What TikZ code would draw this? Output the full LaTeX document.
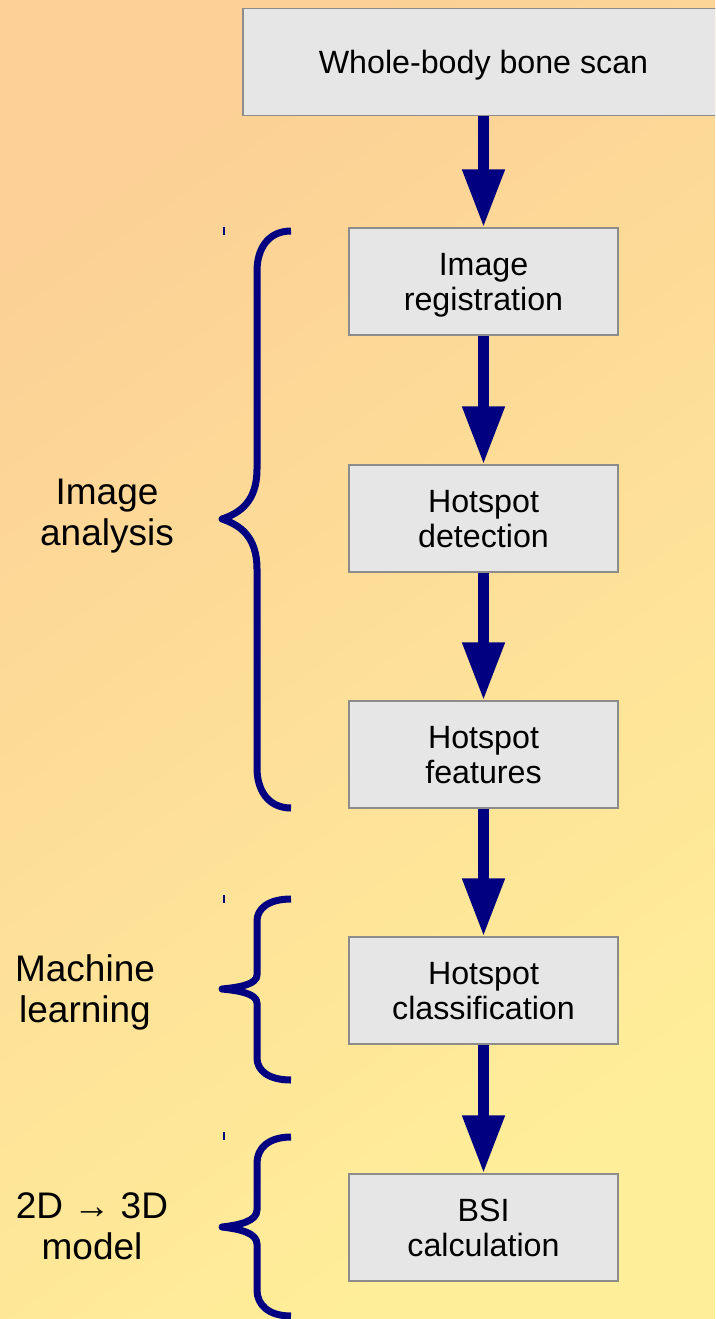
\documentclass[tikz,border=0pt]{standalone}
\usepackage{fontspec}
\setmainfont{Liberation Sans}
\usetikzlibrary{arrows.meta}
\definecolor{navy}{RGB}{0,0,128}
\definecolor{bgA}{RGB}{252,208,150}
\definecolor{bgB}{RGB}{255,238,153}
\definecolor{boxfill}{RGB}{230,230,230}
\definecolor{boxline}{RGB}{140,140,140}
\newcommand\boxlines[1]{\raisebox{-4.5pt}[\height][\depth]{\begin{tabular}{@{}c@{}}#1\end{tabular}}}
\tikzset{
  stepbox/.style={draw=boxline, line width=1.3pt, fill=boxfill, minimum width=269pt,
    minimum height=107pt, inner sep=0pt, align=center, font=\fontsize{32.2}{35.5}\selectfont},
  flow/.style={navy, line width=11pt, -{Triangle[width=40pt,length=58pt]}},
  bracestyle/.style={draw=navy, line width=7pt, line join=round},
  grouplabel/.style={align=center, inner sep=0pt, font=\fontsize{37}{41}\selectfont},
  ticksty/.style={draw=navy, line width=1.2pt}
}
\newcommand\drawmybrace[5]{% top tip bot h1 h2
  \draw[bracestyle] (291,#1) .. controls (268,#1) and (257,#1+0.45*#4) .. (257,#1+#4)
    -- (257,#2-#5) .. controls (257,#2-0.35*#5) and (240,#2-0.12*#5) .. (222,#2)
    .. controls (240,#2+0.12*#5) and (257,#2+0.35*#5) .. (257,#2+#5)
    -- (257,#3-#4) .. controls (257,#3-0.45*#4) and (268,#3) .. (291,#3);}
\begin{document}
\begin{tikzpicture}[x=1pt,y=-1pt]
\useasboundingbox (0,0) rectangle (715,1319);
\shade[top color=bgA, bottom color=bgB, shading angle=35] (0,0) rectangle (715,1319);
\clip (0,0) rectangle (715,1319);

\node[stepbox, minimum width=481pt] (top) at (483.5,62) {\boxlines{Whole-body bone scan}};
\node[stepbox] (reg) at (483.5,281.5) {\boxlines{Image\\registration}};
\node[stepbox] (det) at (483.5,518.5) {\boxlines{Hotspot\\detection}};
\node[stepbox] (feat) at (483.5,754.5) {\boxlines{Hotspot\\features}};
\node[stepbox] (cls) at (483.5,990.5) {\boxlines{Hotspot\\classification}};
\node[stepbox] (bsi) at (483.5,1227.5) {\boxlines{BSI\\calculation}};

\draw[flow] (top.south) -- (reg.north);
\draw[flow] (reg.south) -- (det.north);
\draw[flow] (det.south) -- (feat.north);
\draw[flow] (feat.south) -- (cls.north);
\draw[flow] (cls.south) -- (bsi.north);

\drawmybrace{231}{519}{808}{40}{50}
\drawmybrace{899}{989}{1080}{22}{14}
\drawmybrace{1137}{1227}{1316}{26}{17}

\draw[ticksty] (224,227) -- (224,235);
\draw[ticksty] (224,895) -- (224,903);
\draw[ticksty] (224,1132) -- (224,1140);

\node[grouplabel] (la) at (107,516) {Image\\analysis};
\node[grouplabel] (lb) at (85,992) {Machine\\learning};
\node[grouplabel] (lc) at (92,1226) {2D → 3D\\model};
\end{tikzpicture}
\end{document}
